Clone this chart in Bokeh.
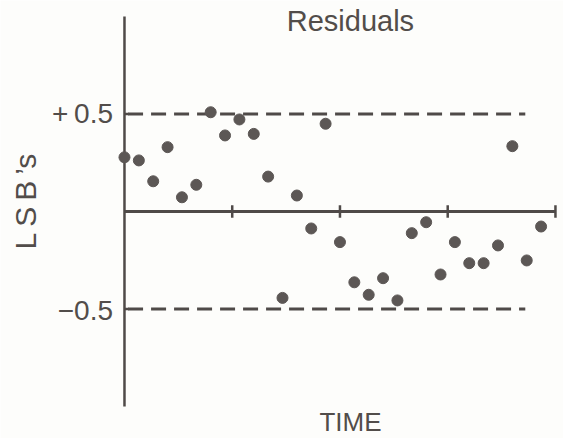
from bokeh.plotting import figure
from bokeh.models import Range1d
from bokeh.core.properties import value
from bokeh.embed import file_html
from bokeh.resources import INLINE

# Residual of each sample, in LSBs
residuals = [0.278, 0.262, 0.155, 0.330, 0.073, 0.137, 0.509, 0.390, 0.472, 0.398,
             0.179, -0.443, 0.082, -0.087, 0.450, -0.157, -0.363, -0.427, -0.342, -0.456,
             -0.111, -0.055, -0.323, -0.157, -0.265, -0.265, -0.174, 0.335, -0.251, -0.077]
sample = list(range(len(residuals)))
time_ticks = [7.5, 15, 22.5, 30]
limit_values = [0.5, -0.5]
limit_labels = ["+\u20090.5", "\u22120.5"]

INK = "#4f4a48"
DOT = "#5c5755"
TXT = "#524d4a"
FONT = value("Liberation Sans")

p = figure(width=563, height=438, output_backend="svg", toolbar_location=None,
           x_range=Range1d(-8.63, 30.56), y_range=Range1d(-1.164, 1.082),
           min_border=0)
p.axis.visible = False
p.grid.visible = False
p.outline_line_color = None
p.background_fill_color = "#fdfdfb"
p.border_fill_color = "#fdfdfb"

# vertical axis and the zero line with its time ticks
p.segment(x0=[0], y0=[-1.0], x1=[0], y1=[1.0], line_color=INK, line_width=2.5)
p.segment(x0=[0], y0=[0], x1=[time_ticks[-1]], y1=[0], line_color=INK, line_width=3)
p.segment(x0=time_ticks, y0=[-0.032] * 4, x1=time_ticks, y1=[0.032] * 4,
          line_color=INK, line_width=2.5)
p.segment(x0=[0, 0], y0=limit_values, x1=[0.3, 0.3], y1=limit_values,
          line_color=INK, line_width=2.5)

# +/- half-LSB limits
p.segment(x0=[0.25, 0.25], y0=limit_values, x1=[27.9, 27.9], y1=limit_values,
          line_color=INK, line_width=3, line_dash="15 8")

p.scatter(sample, residuals, size=11, fill_color=DOT, line_color=DOT)

p.text(x=[-0.8, -0.8], y=[0.505, -0.51], text=limit_labels, text_font=FONT,
       text_font_size="28px", text_color=TXT, text_align="right", text_baseline="middle")
p.text(x=[-6.89], y=[0.051], text=["L\u2009S\u2009B\u2009\u2019s"], angle=1.5708,
       text_font=FONT, text_font_size="30px", text_color=TXT,
       text_align="center", text_baseline="middle")
p.text(x=[15.73], y=[0.979], text=["Residuals"], text_font=FONT,
       text_font_size="29px", text_color=TXT, text_align="center", text_baseline="middle")
p.text(x=[15.73], y=[-1.077], text=["TIME"], text_font=FONT,
       text_font_size="26px", text_color=TXT, text_align="center", text_baseline="middle")

open("out.html", "w").write(file_html(p, INLINE))
